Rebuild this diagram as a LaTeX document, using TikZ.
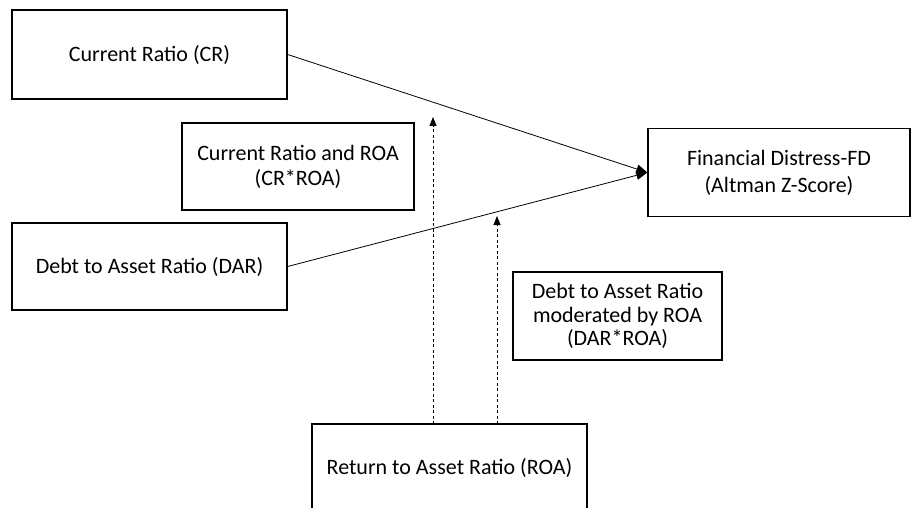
\documentclass[tikz,border=0pt]{standalone}
\usepackage{fontspec}
\setmainfont{Carlito}
\usetikzlibrary{arrows.meta}
\begin{document}
\begin{tikzpicture}[x=1pt,y=-1pt,
  box/.style={draw=black,line width=1.3pt,align=center,inner sep=0pt,
    font=\fontsize{22}{27}\selectfont},
  link/.style={draw=black,line width=0.8pt,-{Triangle[length=11pt,width=9pt]}},
  modlink/.style={draw=black,line width=0.8pt,dash pattern=on 3pt off 2.5pt,
    -{Triangle[length=9pt,width=7pt]}}]
  \useasboundingbox (0,0) rectangle (911,508);
  \clip (0,0) rectangle (911,508);

  % variables
  \node[box,minimum width=275pt,minimum height=89pt] (cr) at (149.5,54.5) {Current Ratio (CR)};
  \node[box,minimum width=275pt,minimum height=87pt] (dar) at (149.5,266.5) {Debt to Asset Ratio (DAR)};
  \node[box,minimum width=232pt,minimum height=87pt,font=\fontsize{22}{25}\selectfont] (crroa) at (298,166.5) {Current Ratio and ROA\\(CR*ROA)};
  \node[box,minimum width=209pt,minimum height=88pt,font=\fontsize{22}{23.5}\selectfont] (darroa) at (617.5,316) {Debt to Asset Ratio\\moderated by ROA\\(DAR*ROA)};
  \node[box,minimum width=262pt,minimum height=88pt] (fd) at (779,172.5) {Financial Distress-FD\\(Altman Z-Score)};

  % moderator box runs past the lower edge
  \draw[line width=1.3pt] (312,530) -- (312,424) -- (587,424) -- (587,530);
  \node[font=\fontsize{22}{27}\selectfont] (roa) at (449.5,468) {Return to Asset Ratio (ROA)};
  \coordinate (roaL) at (433,424);
  \coordinate (roaR) at (497,424);

  % direct effects
  \draw[link] (cr.east) -- (fd.west);
  \draw[link] (dar.east) -- (fd.west);

  % moderating effects
  \coordinate (m1) at (433,117);
  \coordinate (m2) at (497,216);
  \draw[modlink] (roaL) -- (m1);
  \draw[modlink] (roaR) -- (m2);
\end{tikzpicture}
\end{document}
